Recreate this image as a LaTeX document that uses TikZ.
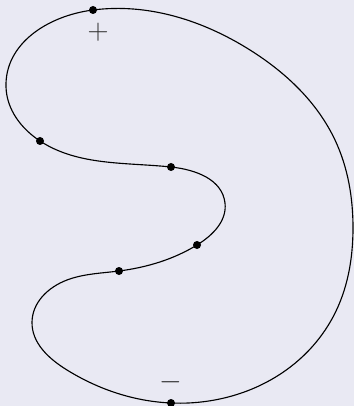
\documentclass[tikz,border=0pt]{standalone}
\usepackage{amsmath}
\usepackage{xcolor}
\usepackage{tikz}
\usetikzlibrary{calc,hobby}

\definecolor{bgcol}{RGB}{233,233,243}

\begin{document}
\begin{tikzpicture}[x=0.025cm,y=-0.025cm,
   dot/.style={circle,fill=black,minimum size=0.2cm,inner sep=0pt},
   sgn/.style={text=black!80,font=\huge,inner sep=0pt}]
  \fill[bgcol] (0,0) rectangle (354,406);
  \useasboundingbox (0,0) rectangle (354,406);
  \begin{scope}
  \clip (0,0) rectangle (354,406);
  % points on the curve
  \coordinate (top) at (93,10);
  \coordinate (lup) at (40,141);
  \coordinate (mid) at (171,167);
  \coordinate (rlo) at (197,245);
  \coordinate (llo) at (119,271);
  \coordinate (bot) at (171,403);
  \draw[line width=0.8pt,use Hobby shortcut,closed=true]
    (top) .. (250,50) .. (335,140) .. (353,228) .. (333,317) .. (bot)
    .. (67,370) .. (32,322) .. (67,280) .. (llo) .. (rlo) .. (225,203)
    .. (mid) .. (lup) .. (6,87);
  \foreach \p in {top,lup,mid,rlo,llo,bot}
    \node[dot] (d\p) at (\p) {};
  \end{scope}
  \node[sgn] (plus) at (98,32) {$+$};
  \node[sgn] (minus) at (171,382) {$-$};
\end{tikzpicture}
\end{document}
